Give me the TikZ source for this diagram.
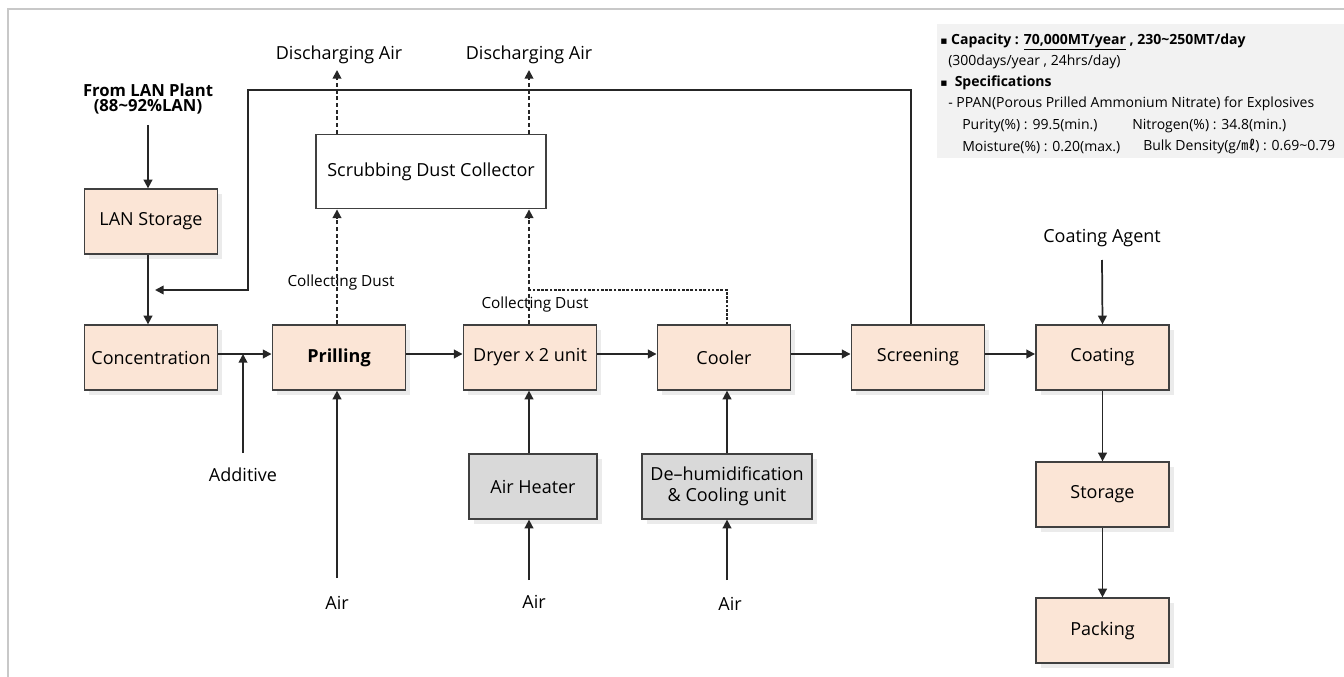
\documentclass[tikz,border=0pt]{standalone}
\usepackage{fontspec}
\setmainfont{Open Sans}
\newfontfamily\cjk{Noto Sans CJK KR}
\newfontfamily\dejavu{DejaVu Sans}
\usetikzlibrary{arrows.meta,shadows,calc}
\definecolor{peach}{HTML}{FBE5D6}
\definecolor{graybox}{HTML}{D9D9D9}
\definecolor{boxborder}{HTML}{404040}
\definecolor{linec}{HTML}{262626}
\definecolor{specbg}{HTML}{F2F2F2}
\definecolor{framec}{HTML}{C8C8C8}
\definecolor{shadowc}{HTML}{EBEBEB}
\tikzset{
  procbox/.style={draw=boxborder, line width=1.2pt, fill=peach, minimum width=100pt, minimum height=48.5pt, inner sep=0pt, align=center,
    font=\fontsize{13.5}{15}\selectfont,
    drop shadow={shadow xshift=3.5pt, shadow yshift=-3.5pt, fill=shadowc, opacity=1}},
  graybx/.style={procbox, fill=graybox},
  plainbox/.style={draw=boxborder, line width=0.9pt, fill=white, inner sep=0pt, align=center, font=\fontsize{13.5}{15}\selectfont},
  lbl/.style={font=\fontsize{13.5}{15}\selectfont, inner sep=0pt, align=center},
  slbl/.style={font=\fontsize{11.5}{13}\selectfont, inner sep=0pt},
  spec/.style={font=\fontsize{10.5}{12}\selectfont, inner sep=0pt, anchor=west},
  specb/.style={spec, font=\fontsize{10.5}{12}\selectfont\bfseries},
  flow/.style={line width=1.3pt, draw=linec, -{Triangle[length=6.5pt,width=6.5pt]}},
  dflow/.style={flow, dash pattern=on 3pt off 2pt},
  dline/.style={line width=1.1pt, draw=linec, dash pattern=on 2pt off 1.2pt}
}
\begin{document}
\begin{tikzpicture}[x=0.75pt,y=-0.75pt]
\useasboundingbox (0,0) rectangle (1344,677);
\draw[framec, line width=1.5pt] (8,677) -- (8,9) -- (1344,9);
\fill[specbg] (937,24) rectangle (1344,158);

% spec text
\node[specb] (s1) at (940,42) {{\dejavu\fontsize{8}{8}\selectfont ▪} Capacity : \underline{70,000MT/year} , 230\textasciitilde250MT/day};
\node[spec] (s2) at (948,62) {(300days/year , 24hrs/day)};
\node[specb] (s3) at (940,83) {{\dejavu\fontsize{8}{8}\selectfont ▪}\ \ Specifications};
\node[spec] (s4) at (948,104) {- PPAN(Porous Prilled Ammonium Nitrate) for Explosives};
\node[spec] (s5) at (962,126) {Purity(\%) : 99.5(min.)};
\node[spec] (s5b) at (1132,126) {Nitrogen(\%) : 34.8(min.)};
\node[spec] (s6) at (962,147) {Moisture(\%) : 0.20(max.)};
\node[spec] (s6b) at (1143,147) {Bulk Density(g/{\cjk ㎖}) : 0.69\textasciitilde0.79};

% boxes
\node[procbox] (lanst) at (151,221.5) {LAN Storage};
\node[procbox] (conc) at (151,357.5) {Concentration};
\node[procbox, font=\fontsize{13.5}{15}\selectfont\bfseries] (prill) at (339,357.5) {Prilling};
\node[procbox] (dryer) at (530,357.5) {Dryer x 2 unit};
\node[procbox] (cooler) at (724,357.5) {Cooler};
\node[procbox] (screen) at (918,357.5) {Screening};
\node[procbox] (coat) at (1102.5,357.5) {Coating};
\node[procbox] (stor) at (1102.5,494.5) {Storage};
\node[procbox] (pack) at (1102.5,630.5) {Packing};
\node[graybx, minimum width=96pt] (heater) at (533,486.5) {Air Heater};
\node[graybx, minimum width=127.5pt, font=\fontsize{13.5}{16}\selectfont] (dehum) at (727,486.5) {De\textendash humidification\\\& Cooling unit};
\node[plainbox, minimum width=172.5pt, minimum height=56pt] (scrub) at (431,171.5) {Scrubbing Dust Collector};

% labels
\node[lbl, font=\fontsize{12.5}{11.5}\selectfont\bfseries] (lanplant) at (148,99) {From LAN Plant\\(88\textasciitilde92\%LAN)};
\node[lbl] (dis1) at (339,55) {Discharging Air};
\node[lbl] (dis2) at (529,55) {Discharging Air};
\node[slbl] (cd1) at (341,283) {Collecting Dust};
\node[slbl] (cd2) at (535,305) {Collecting Dust};
\node[lbl] (add) at (243,475) {Additive};
\node[lbl] (air1) at (337,603) {Air};
\node[lbl] (air2) at (534,602) {Air};
\node[lbl] (air3) at (730,604) {Air};
\node[lbl] (agent) at (1102,238) {Coating Agent};

% free ends
\coordinate (lanin) at (148,125);
\coordinate (ret1) at (911,90);
\coordinate (ret2) at (248,90);
\coordinate (ret3) at (248,290);
\coordinate (rettip) at (155,290);
\coordinate (addin) at (243,453);
\coordinate (air1in) at (337,578);
\coordinate (air2in) at (529,580);
\coordinate (air3in) at (727,580);
\coordinate (agentin) at (1102,260);
\coordinate (d1top) at (337,70);
\coordinate (d2top) at (529,70);
\coordinate (coolx) at (727,290);
\coordinate (hline) at (0,354);

% main flow
\draw[flow] (lanin) -- (lanin |- lanst.north);
\draw[flow] (lanin |- lanst.south) -- (lanin |- conc.north);
\draw[flow] (conc.east |- hline) -- (prill.west |- hline);
\draw[flow] (prill.east |- hline) -- (dryer.west |- hline);
\draw[flow] (dryer.east |- hline) -- (cooler.west |- hline);
\draw[flow] (cooler.east |- hline) -- (screen.west |- hline);
\draw[flow] (screen.east |- hline) -- (coat.west |- hline);
\draw[flow] (agentin) -- (coat.north);
\draw[flow] (coat.south) -- (stor.north);
\draw[flow] (stor.south) -- (pack.north);
\draw[flow] (addin) -- (addin |- hline);
\draw[flow] (air1in) -- (air1in |- prill.south);
\draw[flow] (air2in) -- (air2in |- heater.south);
\draw[flow] (air2in |- heater.north) -- (air2in |- dryer.south);
\draw[flow] (air3in) -- (air3in |- dehum.south);
\draw[flow] (air3in |- dehum.north) -- (air3in |- cooler.south);
\draw[flow] (ret1 |- screen.north) -- (ret1) -- (ret2) -- (ret3) -- (rettip);

% dust lines
\draw[dflow] (air1in |- prill.north) -- (air1in |- scrub.south);
\draw[dflow] (air2in |- dryer.north) -- (air2in |- scrub.south);
\draw[dline] (coolx |- cooler.north) -- (coolx) -- (coolx -| air2in);
\draw[dflow] (d1top |- scrub.north) -- (d1top);
\draw[dflow] (d2top |- scrub.north) -- (d2top);
\end{tikzpicture}
\end{document}
